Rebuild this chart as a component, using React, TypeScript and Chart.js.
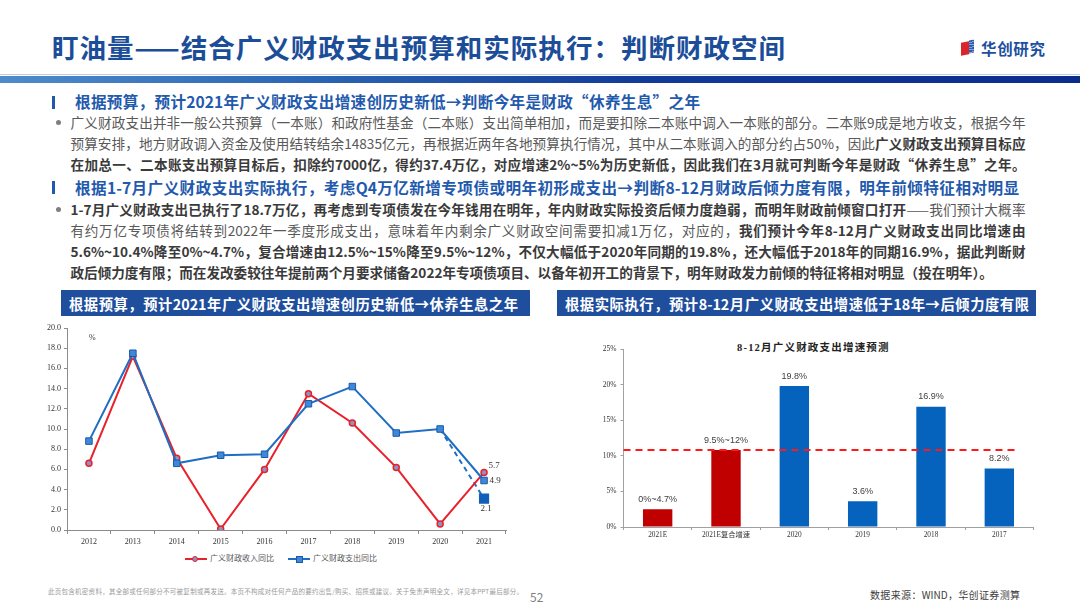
import React, { useEffect, useRef } from 'react';
import { Chart, registerables } from 'chart.js';

Chart.register(...registerables);

// ---------- data: left line chart ----------
const years = ['2012', '2013', '2014', '2015', '2016', '2017', '2018', '2019', '2020', '2021'];
const revenueYoY = [6.6, 17.2, 7.1, 0.1, 6.0, 13.5, 10.6, 6.2, 0.6, 5.7];
const expenditureYoY = [8.8, 17.5, 6.6, 7.4, 7.5, 12.5, 14.2, 9.6, 10.0, 4.9];
const expenditureAdjusted = [null, null, null, null, null, null, null, null, 10.0, 3.1];
const expenditureAdjustedLabel = '2.1';
const leftYMin = 0;
const leftYMax = 20;
const leftYStep = 2;
const revenueName = '广义财政收入同比';
const expenditureName = '广义财政支出同比';

// ---------- data: right bar chart ----------
const barCategories = ['2021E', '2021E复合增速', '2020', '2019', '2018', '2017'];
const barValues = [2.5, 10.8, 19.8, 3.6, 16.9, 8.2];
const barLabels = ['0%~4.7%', '9.5%~12%', '19.8%', '3.6%', '16.9%', '8.2%'];
const barIsForecast = [true, true, false, false, false, false];
const refLineValue = 10.8;
const rightYMax = 25;
const rightYStep = 5;
const barTitle = '8-12月广义财政支出增速预测';

// ---------- text ----------
const slideTitle = '盯油量——结合广义财政支出预算和实际执行：判断财政空间';
const heading1 = '根据预算，预计2021年广义财政支出增速创历史新低→判断今年是财政“休养生息”之年';
const heading2 = '根据1-7月广义财政支出实际执行，考虑Q4万亿新增专项债或明年初形成支出→判断8-12月财政后倾力度有限，明年前倾特征相对明显';
const banner1 = '根据预算，预计2021年广义财政支出增速创历史新低→休养生息之年';
const banner2 = '根据实际执行，预计8-12月广义财政支出增速低于18年→后倾力度有限';
const disclaimer = '此页包含机密资料，其全部或任何部分不可被复制或再发送。本页不构成对任何产品的要约出售/购买、招揽或建议。关于免责声明全文，详见本PPT最后部分。';
const pageNo = '52';
const source = '数据来源：WIND，华创证券测算';

const SANS = '"Noto Sans CJK SC", "Noto Sans", sans-serif';
const SERIF = '"Liberation Serif", "DejaVu Serif", "Noto Sans CJK SC", serif';

const RED = '#e8212b';
const BLUE = '#1f6ec4';

function LeftChart() {
  const ref = useRef<HTMLCanvasElement>(null);
  useEffect(() => {
    const endLabels = {
      id: 'endLabels',
      afterDatasetsDraw(chart: any) {
        const ctx = chart.ctx;
        const last = years.length - 1;
        const pr = chart.getDatasetMeta(1).data[last];
        const pb = chart.getDatasetMeta(0).data[last];
        const pd = chart.getDatasetMeta(2).data[last];
        ctx.save();
        ctx.font = `9px ${SERIF}`;
        ctx.fillStyle = '#333';
        ctx.textAlign = 'center';
        ctx.textBaseline = 'middle';
        ctx.fillText(revenueYoY[last].toFixed(1), pr.x + 10, pr.y - 7);
        ctx.fillText(expenditureYoY[last].toFixed(1), pb.x + 11, pb.y + 0.5);
        ctx.fillText(expenditureAdjustedLabel, pd.x + 2, pd.y + 10);
        ctx.restore();
      },
    };
    const c = new Chart(ref.current!, {
      type: 'line',
      data: {
        labels: years,
        datasets: [
          {
            label: expenditureName,
            data: expenditureYoY,
            borderColor: BLUE,
            borderWidth: 2,
            pointStyle: 'rect',
            pointRadius: 4.6,
            pointBackgroundColor: '#3f88d8',
            pointBorderColor: '#1a5aa8',
            pointBorderWidth: 1,
            tension: 0,
            order: 0,
          },
          {
            label: revenueName,
            data: revenueYoY,
            borderColor: RED,
            borderWidth: 2,
            pointStyle: 'circle',
            pointRadius: 3,
            pointBackgroundColor: '#8a93c4',
            pointBorderColor: RED,
            pointBorderWidth: 1.5,
            tension: 0,
            order: 1,
          },
          {
            label: 'adj',
            data: expenditureAdjusted as any,
            borderColor: BLUE,
            borderWidth: 2,
            borderDash: [5, 4],
            pointStyle: 'rect',
            pointRadius: expenditureAdjusted.map((v, i) => (i === expenditureAdjusted.length - 1 ? 5.8 : 0)),
            pointBackgroundColor: '#105fb8',
            pointBorderColor: '#105fb8',
            tension: 0,
            spanGaps: false,
            order: 2,
          },
        ],
      },
      options: {
        responsive: false,
        animation: false,
        events: [],
        layout: { padding: { top: 10, right: 14, left: 0, bottom: 0 } },
        plugins: { legend: { display: false }, tooltip: { enabled: false } },
        scales: {
          x: {
            offset: true,
            grid: { offset: true, drawOnChartArea: false, tickLength: 4, color: '#8c8c8c' },
            border: { color: '#8c8c8c' },
            ticks: { font: { family: SERIF, size: 8 }, color: '#333', padding: 3, maxRotation: 0 },
            afterFit: (s: any) => { s.height = 18; },
          },
          y: {
            min: leftYMin,
            max: leftYMax,
            grid: { drawOnChartArea: false, tickLength: 3, color: '#8c8c8c' },
            border: { color: '#8c8c8c' },
            ticks: {
              stepSize: leftYStep,
              font: { family: SERIF, size: 8 },
              color: '#333',
              padding: 3,
              callback: (v: any) => Number(v).toFixed(1),
            },
            afterFit: (s: any) => { s.width = 37; },
          },
        },
      },
      plugins: [endLabels],
    });
    return () => c.destroy();
  }, []);
  return (
    <canvas
      ref={ref}
      width={490}
      height={230}
      style={{ position: 'absolute', left: 30, top: 318, width: 490, height: 230 }}
    />
  );
}

function RightChart() {
  const ref = useRef<HTMLCanvasElement>(null);
  useEffect(() => {
    const overlay = {
      id: 'overlay',
      afterDatasetsDraw(chart: any) {
        const ctx = chart.ctx;
        const area = chart.chartArea;
        const y = chart.scales.y.getPixelForValue(refLineValue);
        ctx.save();
        ctx.strokeStyle = '#ff1a1a';
        ctx.lineWidth = 2;
        ctx.setLineDash([7, 5]);
        ctx.beginPath();
        ctx.moveTo(area.left, y);
        ctx.lineTo(area.right - 16, y);
        ctx.stroke();
        ctx.setLineDash([]);
        ctx.font = `9px "Liberation Sans", "DejaVu Sans", sans-serif`;
        ctx.fillStyle = '#404040';
        ctx.textAlign = 'center';
        ctx.textBaseline = 'middle';
        chart.getDatasetMeta(0).data.forEach((bar: any, i: number) => {
          ctx.fillText(barLabels[i], bar.x, bar.y - 10);
        });
        ctx.restore();
      },
    };
    const c = new Chart(ref.current!, {
      type: 'bar',
      data: {
        labels: barCategories,
        datasets: [
          {
            data: barValues,
            backgroundColor: barIsForecast.map((f) => (f ? '#c00000' : '#0562bd')),
            borderWidth: 0,
            barPercentage: 0.43,
            categoryPercentage: 1,
          },
        ],
      },
      options: {
        responsive: false,
        animation: false,
        events: [],
        layout: { padding: { top: 14, right: 11.5, left: 0, bottom: 0 } },
        plugins: { legend: { display: false }, tooltip: { enabled: false } },
        scales: {
          x: {
            grid: { offset: true, drawOnChartArea: false, tickLength: 3, color: '#a0a0a0' },
            border: { color: '#a0a0a0' },
            ticks: { font: { family: SERIF, size: 7.3 }, color: '#333', padding: 1, maxRotation: 0 },
            afterFit: (s: any) => { s.height = 23; },
          },
          y: {
            min: 0,
            max: rightYMax,
            grid: { drawOnChartArea: false, tickLength: 3, color: '#a0a0a0' },
            border: { color: '#a0a0a0' },
            ticks: {
              stepSize: rightYStep,
              font: { family: SERIF, size: 7.5 },
              color: '#333',
              padding: 4,
              callback: (v: any) => `${v}%`,
            },
            afterFit: (s: any) => { s.width = 43.5; },
          },
        },
      },
      plugins: [overlay],
    });
    return () => c.destroy();
  }, []);
  return (
    <canvas
      ref={ref}
      width={465}
      height={215}
      style={{ position: 'absolute', left: 580, top: 335, width: 465, height: 215 }}
    />
  );
}

type LineProps = {
  x: number;
  y: number;
  w?: number;
  size: number;
  color: string;
  weight?: number;
  justify?: boolean;
  family?: string;
  children: React.ReactNode;
  ls?: number;
};

function TextLine({ x, y, w, size, color, weight = 400, justify = false, family = SANS, children, ls = 0 }: LineProps) {
  const lh = Math.round(size * 1.5);
  return (
    <div
      style={{
        position: 'absolute',
        left: x,
        top: y - lh / 2,
        width: w,
        height: lh,
        lineHeight: `${lh}px`,
        fontSize: size,
        fontFamily: family,
        color,
        fontWeight: weight,
        whiteSpace: 'nowrap',
        textAlign: justify ? 'justify' : 'left',
        textAlignLast: justify ? 'justify' : 'left',
        letterSpacing: ls,
      } as React.CSSProperties}
    >
      {children}
    </div>
  );
}

const B = ({ children }: { children: React.ReactNode }) => (
  <span style={{ fontWeight: 700, color: '#3a3a3a' }}>{children}</span>
);

const Bullet = ({ y }: { y: number }) => (
  <div style={{ position: 'absolute', left: 56, top: y - 2.5, width: 5, height: 5, borderRadius: '50%', background: '#7f7f7f' }} />
);

export default function App() {
  const bodyColor = '#595959';
  const headColor = '#1f5aad';
  const bodySize = 13.6;
  const bx = 70.5;
  const bw = 955;
  return (
    <div
      style={{
        position: 'fixed',
        left: 0,
        top: 0,
        width: 1080,
        height: 608,
        background: '#fff',
        overflow: 'hidden',
        fontFamily: SANS,
      }}
    >
      {/* title */}
      <TextLine x={52} y={47} w={733} size={26.5} color="#1b4d99" weight={700} justify>
        {slideTitle}
      </TextLine>
      {/* logo */}
      <div style={{ position: 'absolute', left: 961, top: 42, width: 8, height: 13, background: '#d9262b', transform: 'skewY(-12deg)' }} />
      <div style={{ position: 'absolute', left: 969, top: 40, width: 5, height: 13, background: 'repeating-linear-gradient(to bottom, #2c5db0 0px, #2c5db0 1.5px, #7fa4d8 1.5px, #7fa4d8 2.5px)', transform: 'skewY(-12deg)' }} />
      <TextLine x={981} y={48} w={64} size={15.5} color="#1d4fa0" weight={700} justify>
        华创研究
      </TextLine>
      {/* header bar */}
      <div style={{ position: 'absolute', left: 0, top: 74, width: 1080, height: 1, background: '#b9cfe8' }} />
      <div
        style={{
          position: 'absolute',
          left: 0,
          top: 76,
          width: 1080,
          height: 7,
          background: 'linear-gradient(to right, #4f8bcb 0%, #2a63b2 30%, #123a98 60%, #0c2c8c 100%)',
        }}
      />

      {/* heading 1 */}
      <div style={{ position: 'absolute', left: 52, top: 96, width: 3, height: 13, background: headColor }} />
      <TextLine x={75} y={101.5} w={625} size={15.6} color={headColor} weight={700} justify>
        {heading1}
      </TextLine>
      <Bullet y={122} />
      <TextLine x={bx} y={122} w={bw} size={bodySize} color={bodyColor} justify>
        广义财政支出并非一般公共预算（一本账）和政府性基金（二本账）支出简单相加，而是要扣除二本账中调入一本账的部分。二本账9成是地方收支，根据今年
      </TextLine>
      <TextLine x={bx} y={143} w={bw} size={bodySize} color={bodyColor} justify>
        预算安排，地方财政调入资金及使用结转结余14835亿元，再根据近两年各地预算执行情况，其中从二本账调入的部分约占50%，因此<B>广义财政支出预算目标应</B>
      </TextLine>
      <TextLine x={bx} y={164} w={bw} size={bodySize} color={bodyColor} justify>
        <B>在加总一、二本账支出预算目标后，扣除约7000亿，得约37.4万亿，对应增速2%~5%为历史新低，因此我们在3月就可判断今年是财政“休养生息”之年。</B>
      </TextLine>

      {/* heading 2 */}
      <div style={{ position: 'absolute', left: 52, top: 181, width: 3, height: 13, background: headColor }} />
      <TextLine x={75} y={187} w={944} size={15.6} color={headColor} weight={700} justify>
        {heading2}
      </TextLine>
      <Bullet y={209} />
      <TextLine x={bx} y={209} w={bw} size={bodySize} color={bodyColor} justify>
        <B>1-7月广义财政支出已执行了18.7万亿，再考虑到专项债发在今年钱用在明年，年内财政实际投资后倾力度趋弱，而明年财政前倾窗口打开</B>——我们预计大概率
      </TextLine>
      <TextLine x={bx} y={230} w={bw} size={bodySize} color={bodyColor} justify>
        有约万亿专项债将结转到2022年一季度形成支出，意味着年内剩余广义财政空间需要扣减1万亿，对应的，<B>我们预计今年8-12月广义财政支出同比增速由</B>
      </TextLine>
      <TextLine x={bx} y={251} w={bw} size={bodySize} color={bodyColor} justify>
        <B>5.6%~10.4%降至0%~4.7%，复合增速由12.5%~15%降至9.5%~12%，不仅大幅低于2020年同期的19.8%，还大幅低于2018年的同期16.9%，据此判断财</B>
      </TextLine>
      <TextLine x={bx} y={272} size={bodySize} color={bodyColor}>
        <B>政后倾力度有限；而在发改委较往年提前两个月要求储备2022年专项债项目、以备年初开工的背景下，明年财政发力前倾的特征将相对明显（投在明年）。</B>
      </TextLine>

      {/* banners */}
      <div style={{ position: 'absolute', left: 61, top: 290, width: 469, height: 26, background: '#1f4e9d' }} />
      <TextLine x={69} y={303} w={449} size={14.3} color="#fff" weight={700} justify>
        {banner1}
      </TextLine>
      <div style={{ position: 'absolute', left: 557, top: 290, width: 479, height: 26, background: '#1f4e9d' }} />
      <TextLine x={565} y={303} w={464} size={14.3} color="#fff" weight={700} justify>
        {banner2}
      </TextLine>

      {/* left chart */}
      <LeftChart />
      <TextLine x={89} y={338} size={8} color="#333" family={SERIF}>%</TextLine>
      {/* legend */}
      <div style={{ position: 'absolute', left: 185, top: 558, width: 22, height: 2, background: RED }} />
      <div style={{ position: 'absolute', left: 192, top: 555.5, width: 4, height: 4, borderRadius: '50%', border: `1.5px solid ${RED}`, background: '#8a93c4' }} />
      <TextLine x={210} y={559} size={8} color="#595959" family={SERIF}>{revenueName}</TextLine>
      <div style={{ position: 'absolute', left: 288, top: 558, width: 22, height: 2, background: BLUE }} />
      <div style={{ position: 'absolute', left: 295.5, top: 555.5, width: 5.5, height: 5.5, border: '1px solid #1a5aa8', background: '#3f88d8' }} />
      <TextLine x={313} y={559} size={8} color="#595959" family={SERIF}>{expenditureName}</TextLine>

      {/* right chart */}
      <TextLine x={737} y={348} size={10.5} color="#222" weight={700} family={SERIF} ls={1.2}>
        {barTitle}
      </TextLine>
      <RightChart />

      {/* footer */}
      <TextLine x={48} y={591} w={475} size={6.5} color="#9a9a9a" justify>
        {disclaimer}
      </TextLine>
      <TextLine x={530} y={597} size={12} color="#7f7f7f">{pageNo}</TextLine>
      <TextLine x={870} y={594} w={150} size={10} color="#404040" justify>
        {source}
      </TextLine>
    </div>
  );
}
